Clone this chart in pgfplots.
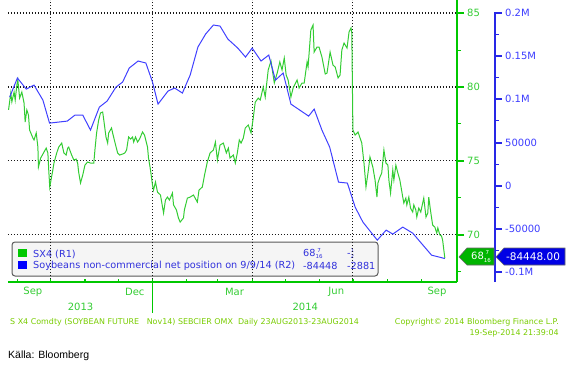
\documentclass[border=0pt]{standalone}
\usepackage{pgfplots}
\pgfplotsset{compat=1.18}
\usepackage{fontspec}
\setmainfont{DejaVu Sans}
\newfontfamily\arialfont{Liberation Sans}
\definecolor{lgreen}{RGB}{51,204,51}
\definecolor{agreen}{RGB}{0,200,0}
\definecolor{lblue}{RGB}{64,64,255}
\definecolor{ablue}{RGB}{40,40,230}
\definecolor{tblue}{RGB}{60,60,255}
\definecolor{fgreen}{RGB}{120,204,0}
\definecolor{legtext}{RGB}{50,50,220}
\newcommand\frc[2]{{\def\arraystretch{0.62}\begin{tabular}[c]{@{}c@{}}\fontsize{5.5}{6}\selectfont#1\\\fontsize{5.5}{6}\selectfont#2\end{tabular}}}
\pgfplotsset{gridst/.style={black!90, line width=1.05pt, dash pattern=on 1.3pt off 1.7pt}}
\begin{document}
\begin{tikzpicture}
\path[use as bounding box] (0pt,0pt) rectangle (566pt,368pt);
% legend box
\draw[rounded corners=3pt, fill=gray!8, draw=black!65, line width=1pt] (12pt,92pt) rectangle (378pt,126pt);
\fill[agreen] (18pt,111pt) rectangle (27pt,119pt);
\fill[blue] (18pt,99pt) rectangle (27pt,107pt);
\begin{scope}[every node/.style={anchor=west, inner sep=0pt, text=legtext, font=\fontsize{9.7}{10}\selectfont}]
\node at (33pt,114pt) {SX4 (R1)};
\node at (33pt,102pt) {Soybeans non-commercial net position on 9/9/14 (R2)};
\node at (303pt,114pt) {68\frc{7}{16}};
\node at (303pt,102pt) {-84448};
\node at (347pt,114pt) {-\frc{1}{2}};
\node at (347pt,102pt) {-2881};
\end{scope}
% x axis with vertical grid
\begin{axis}[at={(8pt,86pt)}, anchor=south west, scale only axis,
  width=449pt, height=282pt,
  xmin=-130.5, xmax=275, ymin=66.82, ymax=85.88,
  axis x line*=bottom, axis y line=none,
  axis line style={-, draw=agreen, line width=1.2pt},
  xtick={-122,-92,-61,-31,0,31,59,90,120,151,181,212,243},
  xticklabels={},
  tick align=inside, major tick length=3pt,
  tick style={draw=agreen, line width=1.2pt},
  extra x ticks={-92,0,90,181}, extra x tick labels={},
  extra x tick style={grid=major},
  major grid style={gridst},
  clip=false]
\begin{scope}[every node/.style={text=lgreen, font=\fontsize{10}{12}\selectfont, inner sep=0pt}]
\node[yshift=-10pt] at (axis cs:-108,66.82) {Sep};
\node[yshift=-10pt] at (axis cs:-16,66.82) {Dec};
\node[yshift=-10pt] at (axis cs:74,66.82) {Mar};
\node[yshift=-10pt] at (axis cs:166,66.82) {Jun};
\node[yshift=-10pt] at (axis cs:257,66.82) {Sep};
\node[yshift=-25pt] at (axis cs:-65,66.82) {2013};
\node[yshift=-25pt] at (axis cs:138,66.82) {2014};
\end{scope}
\draw[agreen, line width=1.2pt] (axis cs:0,66.82) -- ++(0pt,-31pt);
\end{axis}
% green series, R1
\begin{axis}[at={(8pt,86pt)}, anchor=south west, scale only axis,
  width=449pt, height=282pt,
  xmin=-130.5, xmax=275, ymin=66.82, ymax=85.88,
  axis x line=none, axis y line*=right,
  axis line style={-, draw=agreen, line width=1.2pt},
  ytick={70,75,80,85}, yticklabels={70,75,80,85},
  minor ytick={67.5,72.5,77.5,82.5},
  tick align=outside, major tick length=7pt, minor tick length=4pt,
  major tick style={draw=agreen, line width=2pt},
  minor tick style={draw=agreen, line width=1pt},
  yticklabel style={text=lgreen, font=\fontsize{10}{12}\selectfont, anchor=west, inner sep=0pt, xshift=3pt},
  ymajorgrids, major grid style={gridst}]
\addplot[lgreen, line width=1pt] coordinates {
(-130,78.45) (-128,79.59) (-127,79.00) (-125,79.66) (-124,79.12) (-122.5,80.13) (-121.6,80.47) (-120,79.25)
(-118,79.66) (-116,78.92) (-115,77.63) (-113.5,78.45) (-112,78.10) (-111,77.09) (-108,76.55) (-107,76.42)
(-105,76.89) (-103.5,75.94) (-103,74.59) (-101,75.20) (-98,75.60) (-96,75.87) (-94.5,75.54) (-93.7,74.39)
(-92.8,73.24) (-90,74.39) (-89,74.86) (-86.5,75.54) (-84.7,75.94) (-82,76.21) (-80,75.54) (-78,75.40)
(-76.6,75.87) (-75.7,75.94) (-73,75.40) (-71,75.06) (-69,75.13) (-67.6,74.86) (-66.7,74.25) (-65,73.51)
(-63,74.05) (-61,74.72) (-58.6,74.93) (-56,74.86) (-53,74.86) (-52,75.74) (-50.5,76.89) (-48.6,77.77)
(-47,78.24) (-45,78.31) (-44,77.77) (-42,76.62) (-40.5,76.21) (-39.6,76.89) (-37,77.23) (-36,76.89)
(-34,76.28) (-31.5,75.54) (-29.7,75.40) (-27,75.47) (-25,75.54) (-23.4,75.74) (-21.6,76.62) (-19.8,76.48)
(-18,76.62) (-17,76.28) (-15.3,76.62) (-13.5,76.28) (-11.7,76.48) (-9,76.96) (-7.2,76.75) (-4.5,75.94)
(-3.6,75.20) (-1.8,74.39) (0,73.37) (0.9,73.03) (2.7,73.58) (4.5,72.90) (7.2,72.70) (10,71.48)
(11.7,72.36) (13.5,72.56) (15.3,72.36) (18,72.83) (19,72.03) (21.6,71.69) (23.4,71.15) (25,70.87)
(28,71.15) (28.8,71.69) (31.5,72.49) (34,72.56) (37,72.70) (40.5,72.22) (42,73.03) (45,73.24)
(47,74.05) (49.5,74.93) (52,75.54) (55,75.74) (56.8,76.28) (58.6,75.06) (61,76.08) (64,76.21)
(66.7,75.54) (68.5,75.87) (70,75.20) (73,75.40) (74.8,74.86) (76.6,75.54) (78.4,76.42) (80,76.21)
(82,76.55) (83.8,77.23) (86.5,77.43) (89,76.89) (91,77.90) (92.8,78.98) (95.5,79.25) (97.3,79.12)
(100,80.00) (101.8,79.32) (104.5,81.15) (107,81.76) (110,80.27) (112.6,80.94) (115,81.69) (117,81.15)
(119,81.96) (120.7,80.81) (122.5,80.47) (125,79.32) (127,79.93) (130.6,80.47) (132.4,79.93) (135,80.27)
(137,80.27) (139.6,81.69) (140.5,81.35) (143,83.85) (145,84.19) (146,82.36) (148.6,82.70) (150.4,82.70)
(153,82.03) (156,80.88) (157.6,80.94) (160.4,82.36) (163,81.48) (165,81.35) (167.6,80.61) (169.4,80.81)
(171,82.50) (173,82.97) (175.7,82.63) (177.5,83.72) (179.3,83.99) (180,83.65) (181,77.09) (183,76.75)
(185.6,76.96) (189,76.21) (191,74.86) (192.8,73.24) (194.6,74.18) (196.4,75.27) (199,74.59) (201,73.71)
(202.7,72.56) (203.6,73.51) (205.4,73.91) (207,74.18) (209,75.74) (210.8,74.86) (212.6,74.72) (213.5,73.71)
(215,72.83) (217,74.39) (218,73.71) (219.8,74.72) (221.6,74.18) (223.4,73.71) (226,72.56) (227,72.16)
(228.8,72.49) (229.7,72.03) (231.5,72.56) (233,71.82) (235,71.55) (236,72.03) (237.8,71.69) (238.7,71.21)
(240.5,71.82) (242.3,71.55) (244,72.16) (245,72.49) (247,71.21) (248.6,71.48) (249.5,72.56) (251,71.69)
(253,70.67) (255,70.53) (256.7,70.13) (257.7,70.47) (259.5,70.00) (261,69.93) (262,69.66) (264,68.44)
};
\end{axis}
% blue series, R2 (thousands)
\begin{axis}[at={(8pt,86pt)}, anchor=south west, scale only axis,
  width=487pt, height=282pt,
  xmin=-130.5, xmax=309.3, ymin=-111.6, ymax=215.1,
  axis x line=none, axis y line*=right,
  axis line style={-, draw=none},
  ytick={-100,-50,0,50,100,150,200},
  yticklabels={-0.1M,-50000,0,50000,0.1M,0.15M,0.2M},
  minor ytick={-75,-25,25,75,125,175},
  tick align=outside, major tick length=7pt, minor tick length=4pt,
  major tick style={draw=ablue, line width=2pt},
  minor tick style={draw=ablue, line width=1pt},
  yticklabel style={text=tblue, font=\fontsize{10}{12}\selectfont, anchor=west, inner sep=0pt, xshift=3pt},
  clip=false]
\draw[ablue, line width=1.2pt] (axis cs:309.3,-111.6) -- (axis cs:309.3,200.8);
\addplot[lblue, line width=1pt] coordinates {
(-129,102.6) (-122,124.7) (-114,111.9) (-107,116.5) (-99,99.2) (-93,72.5) (-77,74.8) (-70,81.8)
(-63,81.8) (-56,64.4) (-48,91.0) (-41,98.0) (-33,114.2) (-27,120.0) (-21,136.3) (-13,144.4)
(-6,142.1) (0,120.0) (5,94.5) (14,109.6) (20,113.1) (27,107.3) (34,128.1) (41,160.6)
(48,175.7) (55,186.1) (61,184.9) (68,169.9) (77,159.4) (84,149.0) (90,159.4) (98,144.4)
(105,151.3) (111,122.3) (118,130.5) (125,94.5) (141,80.6) (146,88.7) (153,64.4) (160,44.7)
(168,4.1) (176,3.0) (183,-24.8) (190,-42.2) (203,-63.1) (211,-51.5) (217,-56.1) (226,-48.0)
(235,-55.0) (252,-80.5) (264,-84.4)
};
\end{axis}
% last-value tags
\filldraw[fill=agreen!90!black, draw=black!60, line width=0.6pt] (459pt,111pt) -- (467pt,120pt) -- (494pt,120pt) -- (494pt,103pt) -- (467pt,103pt) -- cycle;
\node[text=white, inner sep=0pt, font=\fontsize{10}{12}\selectfont] at (481pt,111pt) {68\frc{7}{16}};
\filldraw[fill=blue!90!black, draw=black!60, line width=0.6pt] (496pt,111pt) -- (504pt,120pt) -- (565pt,120pt) -- (565pt,103pt) -- (504pt,103pt) -- cycle;
\node[text=white, inner sep=0pt, font=\fontsize{10.5}{12}\selectfont] at (533pt,111pt) {-84448.00};
% footer
\begin{scope}[every node/.style={inner sep=0pt, text=fgreen, font=\fontsize{7.95}{8}\selectfont}]
\node[anchor=west] at (10pt,46pt) {S X4 Comdty (SOYBEAN FUTURE\ \ \ Nov14) SEBCIER OMX\ \ Daily 23AUG2013-23AUG2014};
\node[anchor=east] at (559pt,46pt) {Copyright© 2014 Bloomberg Finance L.P.};
\node[anchor=east] at (559pt,35pt) {19-Sep-2014 21:39:04};
\end{scope}
\node[anchor=west, inner sep=0pt, font=\arialfont\fontsize{10.5}{12}\selectfont] at (8pt,12pt) {Källa: Bloomberg};
\end{tikzpicture}
\end{document}
